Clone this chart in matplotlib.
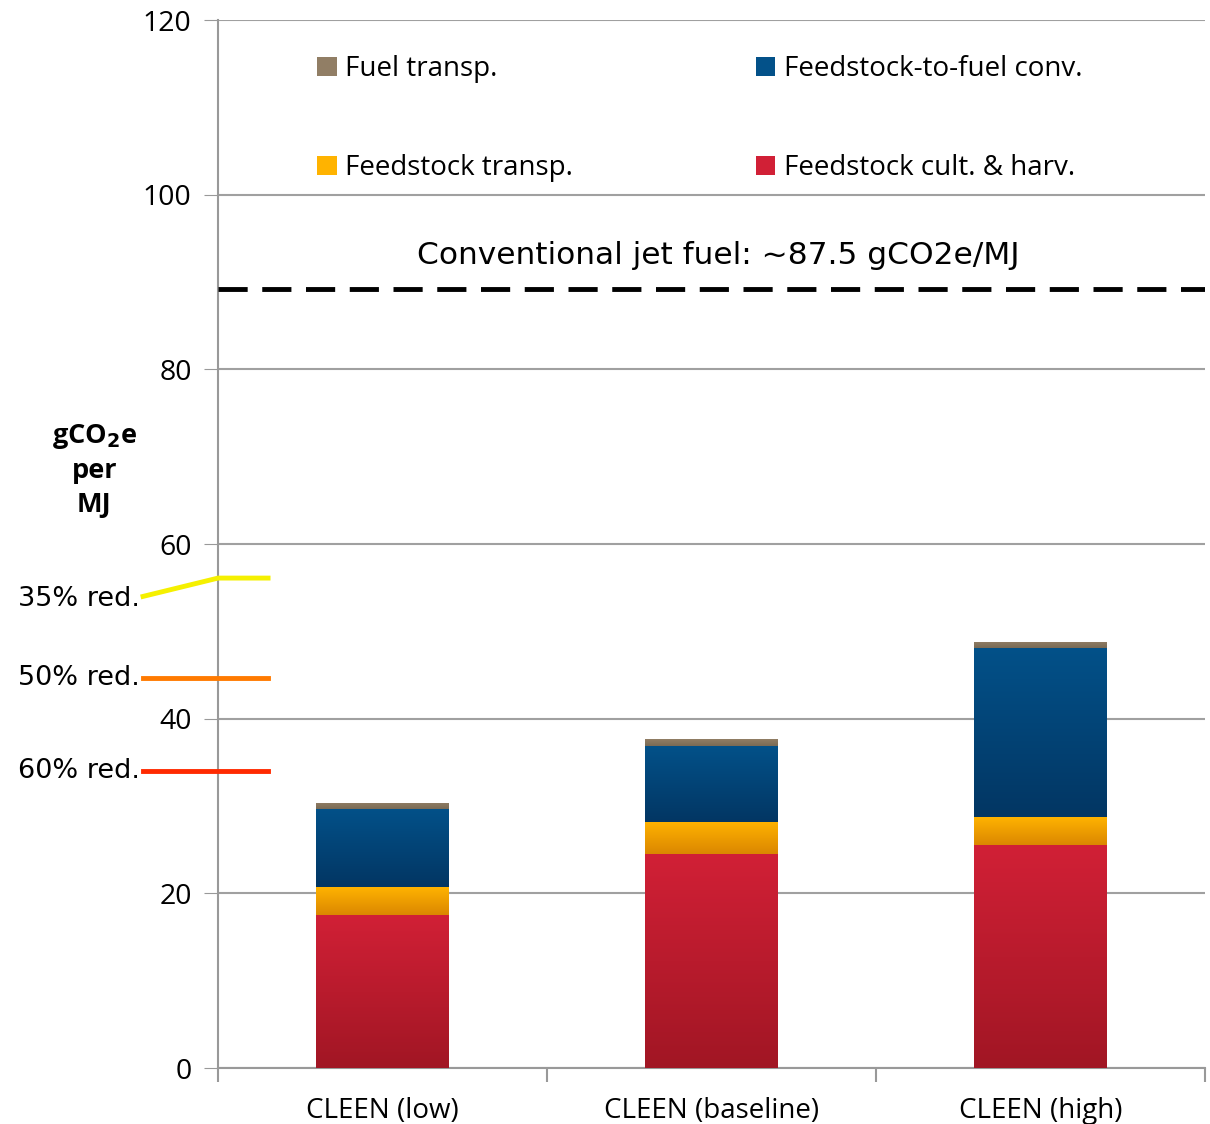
import numpy as np
import matplotlib
matplotlib.use("Agg")
import matplotlib.pyplot as plt
import matplotlib.transforms as mtransforms
from matplotlib.patches import Patch
from matplotlib.colors import LinearSegmentedColormap

# data
categories = ["CLEEN (low)", "CLEEN (baseline)", "CLEEN (high)"]
cult_harv = [17.5, 24.5, 25.5]
feed_transp = [3.2, 3.7, 3.2]
conversion = [9.0, 8.7, 19.4]
fuel_transp = [0.7, 0.8, 0.7]
jet_fuel = 89.2
red_labels = ["35% red.", "50% red.", "60% red."]
red_values = [56.1, 44.7, 34.0]
red_colors = ["#f5f000", "#ff7a00", "#ff2a00"]

series = [
    ("Feedstock cult. & harv.", cult_harv, ("#d12036", "#a11624")),
    ("Feedstock transp.", feed_transp, ("#ffb300", "#db8700")),
    ("Feedstock-to-fuel conv.", conversion, ("#035189", "#023663")),
    ("Fuel transp.", fuel_transp, ("#917e65", "#7a6a55")),
]

plt.rcParams['font.family'] = ['Open Sans', 'DejaVu Sans']

fig = plt.figure(figsize=(12.1, 11.24), dpi=100)
ax = fig.add_axes([0.1802, 0.0498, 0.8157, 0.9324])

x = np.arange(len(categories))
width = 0.404
bottom = np.zeros(len(categories))
grad = np.linspace(0, 1, 256).reshape(-1, 1)
for name, vals, (top_c, bot_c) in series:
    cmap = LinearSegmentedColormap.from_list(name, [bot_c, top_c])
    vals = np.array(vals)
    bars = ax.bar(x, vals, width, bottom=bottom, color=top_c, zorder=3)
    for b in bars:
        # vertical gradient, lighter at the top
        im = ax.imshow(grad, cmap=cmap, aspect="auto", origin="lower",
                       extent=[b.get_x(), b.get_x() + b.get_width(),
                               b.get_y(), b.get_y() + b.get_height()],
                       zorder=3.5)
        im.set_clip_path(b)
    bottom = bottom + vals

ax.set_xlim(-0.5, 2.5)
ax.set_ylim(0, 120)
ax.set_yticks(np.arange(0, 121, 20))
ax.tick_params(axis="y", labelsize=20.5, length=10, color="#999999", pad=9)
ax.yaxis.grid(True, color="#a0a0a0", linewidth=1.5, zorder=0)
ax.set_axisbelow(True)

ax.set_xticks(x)
ax.set_xticklabels(categories, fontsize=20)
ax.set_xticks([-0.5, 0.5, 1.5, 2.5], minor=True)
ax.tick_params(axis="x", which="major", length=0, pad=21)
ax.tick_params(axis="x", which="minor", length=10, color="#999999", width=1.5)

for s in ["top", "right"]:
    ax.spines[s].set_visible(False)
for s in ["left", "bottom"]:
    ax.spines[s].set_color("#999999")
    ax.spines[s].set_linewidth(1.5)

# conventional jet fuel reference
ax.axhline(jet_fuel, color="black", linestyle=(0, (6, 3)), linewidth=3.5, zorder=4)
ax.text(1.02, jet_fuel + 2.2, "Conventional jet fuel: ~87.5 gCO2e/MJ",
        fontsize=22.5, ha="center", va="bottom", family=["DejaVu Sans"])

# reduction markers
trans = mtransforms.blended_transform_factory(ax.transAxes, ax.transData)
for lab, val, col in zip(red_labels, red_values, red_colors):
    if lab.startswith("35"):
        xs = [-0.076, 0.0, 0.0507]
        ys = [val - 2.1, val, val]
        ty = val - 2.4
    else:
        xs = [-0.076, 0.0507]
        ys = [val, val]
        ty = val
    ax.plot(xs, ys, color=col, linewidth=3.5, transform=trans, clip_on=False, zorder=5)
    ax.text(-0.079, ty, lab, transform=trans, ha="right", va="center",
            fontsize=19.5, family=["DejaVu Sans"])

fig.text(0.078, 0.582, "gCO$_\\mathbf{2}$e\nper\nMJ", ha="center", va="center",
         fontsize=19.5, fontweight="bold", linespacing=1.38)

handles = [Patch(facecolor=series[3][2][0]), Patch(facecolor=series[1][2][0]),
           Patch(facecolor=series[2][2][0]), Patch(facecolor=series[0][2][0])]
labels = [series[3][0], series[1][0], series[2][0], series[0][0]]
ax.legend(handles, labels, ncol=2, loc="upper left", bbox_to_anchor=(0.075, 0.99),
          frameon=False, fontsize=20, handlelength=0.7, handleheight=0.7,
          handletextpad=0.3, labelspacing=2.55, columnspacing=6.6)

fig.savefig("out.png", dpi=100)
